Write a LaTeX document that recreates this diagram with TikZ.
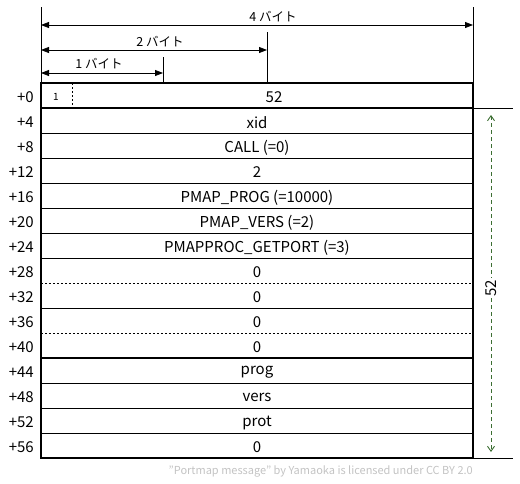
\documentclass[tikz,border=0pt]{standalone}
\usepackage{fontspec}
\setmainfont{Noto Sans CJK JP}
\usepackage{xcolor}
\usetikzlibrary{arrows.meta, positioning, calc}
\definecolor{sizegreen}{RGB}{60,110,50}
\definecolor{creditgray}{RGB}{195,195,195}
\tikzset{
  field/.style={font=\fontsize{15}{17}\selectfont, inner sep=1pt},
  offset/.style={font=\fontsize{15}{17}\selectfont, inner sep=0pt, anchor=east},
  bytelabel/.style={font=\fontsize{12.5}{14}\selectfont, inner sep=0pt},
  bytearrow/.style={line width=0.8pt, {Triangle[length=8pt,width=6pt]}-{Triangle[length=8pt,width=6pt]}},
  thinline/.style={line width=0.9pt},
  heavy/.style={line width=2.2pt},
  dotline/.style={line width=0.9pt, dash pattern=on 2pt off 2pt},
  sizearrow/.style={sizegreen, line width=0.9pt, dash pattern=on 4pt off 3pt,
    {Straight Barb[length=5pt,width=7pt]}-{Straight Barb[length=5pt,width=7pt]}},
}
\begin{document}
\begin{tikzpicture}[x=1pt,y=-1pt]
\useasboundingbox (0,0) rectangle (520,483);

% byte widths
\coordinate (s4) at (41,25);
\coordinate (e4) at (473,25);
\coordinate (s2) at (41,50);
\coordinate (e2) at (267,50);
\coordinate (s1) at (41,73);
\coordinate (e1) at (163,73);
\draw[thinline] (41,7) -- (41,83);
\draw[thinline] (473,7) -- (473,83);
\draw[thinline] (267,32) -- (267,83);
\draw[thinline] (163,57) -- (163,83);
\draw[bytearrow] (s4) -- (e4);
\draw[bytearrow] (s2) -- (e2);
\draw[bytearrow] (s1) -- (e1);
\node[bytelabel] (l4) at (273,17) {4 バイト};
\node[bytelabel] (l2) at (160,42) {2 バイト};
\node[bytelabel] (l1) at (99,64) {1 バイト};

% row lines
\foreach \k in {2,...,7,9,12,13,14}
  \draw[thinline] (41,{83+25*\k}) -- (473,{83+25*\k});
\draw[dotline] (41,283) -- (473,283);
\draw[dotline] (41,333) -- (473,333);
\draw[dotline] (72,83) -- (72,108);
\draw[heavy] (41,108) -- (473,108);
\draw[heavy] (41,358) -- (473,358);
\draw[heavy] (41,83) rectangle (473,458);

% fields
\node[font=\fontsize{10}{11}\selectfont, inner sep=0pt] (one) at (56,97) {1};
\node[field] (len) at (274,97.5) {52};
\foreach \txt [count=\i] in {xid, CALL (=0), 2, PMAP\_PROG (=10000), PMAP\_VERS (=2),
    PMAPPROC\_GETPORT (=3), 0, 0, 0, 0, prog, vers, prot, 0}
  \node[field] (f\i) at (257,{97.5+25*\i}) {\txt};

% offsets
\foreach \i in {0,...,14} {
  \pgfmathtruncatemacro\off{4*\i}
  \node[offset] (o\i) at (34,{97.5+25*\i}) {+\off};
}

% total size
\coordinate (t) at (491,115);
\coordinate (b) at (491,452);
\draw[thinline] (473,108) -- (513,108);
\draw[thinline] (473,458) -- (513,458);
\draw[sizearrow] (t) -- (b);
\node[field, rotate=90, fill=white, inner sep=2pt] (total) at (491,288) {52};

\node[font=\fontsize{11}{13}\selectfont, text=creditgray, anchor=east, inner sep=0pt]
  (lic) at (473,471) {"Portmap message" by Yamaoka is licensed under CC BY 2.0};
\end{tikzpicture}
\end{document}
